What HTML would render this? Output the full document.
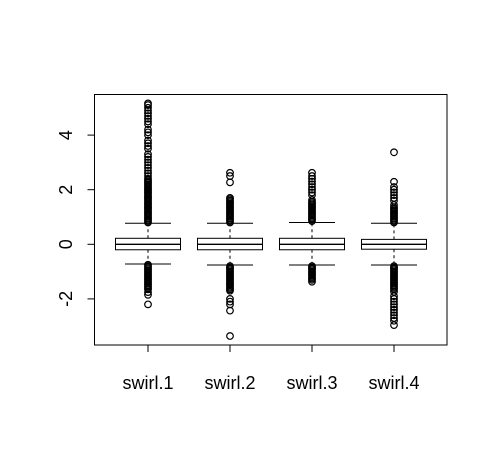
<!DOCTYPE html>
<html><head><meta charset="utf-8"><style>
html,body{margin:0;padding:0;background:#fff;}
svg{display:block;font-family:"Liberation Sans",Arial,sans-serif;}
</style></head><body>
<svg id="chart" width="497" height="463"></svg>
<script>
const categories = ["swirl.1","swirl.2","swirl.3","swirl.4"];
const q1 = [-0.2,-0.2,-0.2,-0.18];
const medians = [0,0,0,0];
const q3 = [0.22,0.22,0.22,0.18];
const whiskerLow = [-0.72,-0.76,-0.76,-0.76];
const whiskerHigh = [0.77,0.77,0.8,0.77];
const outliers1 = [0.8,0.85,0.9,0.95,1.0,1.05,1.1,1.15,1.2,1.25,1.3,1.35,1.4,1.45,1.5,1.55,1.6,1.65,1.7,1.75,1.8,1.85,1.9,1.95,2.0,2.05,2.1,2.15,2.2,2.25,2.3,2.35,2.4,2.5,2.6,2.7,2.8,2.9,3.0,3.1,3.2,3.3,3.5,3.6,3.7,3.8,4.0,4.1,4.2,4.4,4.5,4.6,4.7,4.8,4.9,5.0,5.1,5.16,-0.75,-0.8,-0.85,-0.9,-0.95,-1.0,-1.05,-1.1,-1.15,-1.2,-1.25,-1.3,-1.35,-1.4,-1.45,-1.5,-1.55,-1.6,-1.65,-1.75,-1.85,-2.2];
const outliers2 = [0.8,0.85,0.9,0.95,1.0,1.05,1.1,1.15,1.2,1.25,1.3,1.35,1.4,1.45,1.5,1.55,1.6,1.65,1.7,2.27,2.5,2.62,-0.8,-0.85,-0.9,-0.95,-1.0,-1.05,-1.1,-1.15,-1.2,-1.25,-1.3,-1.35,-1.4,-1.45,-1.5,-1.55,-1.6,-1.65,-1.7,-2.0,-2.1,-2.2,-2.43,-3.36];
const outliers3 = [0.85,0.9,0.95,1.0,1.05,1.1,1.15,1.2,1.25,1.3,1.35,1.4,1.45,1.5,1.55,1.62,1.8,1.9,2.0,2.1,2.2,2.3,2.4,2.5,2.62,-0.8,-0.85,-0.9,-0.95,-1.0,-1.05,-1.1,-1.15,-1.2,-1.25,-1.3,-1.37];
const outliers4 = [0.8,0.85,0.9,0.95,1.0,1.05,1.1,1.15,1.2,1.25,1.3,1.35,1.44,1.6,1.7,1.8,1.9,2.0,2.1,2.29,3.37,-0.8,-0.85,-0.9,-0.95,-1.0,-1.05,-1.1,-1.15,-1.2,-1.25,-1.3,-1.35,-1.4,-1.45,-1.5,-1.55,-1.6,-1.65,-1.74,-1.9,-2.0,-2.1,-2.2,-2.3,-2.4,-2.5,-2.6,-2.7,-2.8,-2.96];
const outliers = [outliers1,outliers2,outliers3,outliers4];
const yTicks = [-2,0,2,4];

const svg = document.getElementById('chart');
const NS = 'http://www.w3.org/2000/svg';
const L=94.5,R=447,T=94.5,B=345;
function yS(v){return 244.3-27.3*v;}
function xS(i){return 148+i*82;}
function mk(tag,attrs,parent){const e=document.createElementNS(NS,tag);for(const k in attrs)e.setAttribute(k,attrs[k]);(parent||svg).appendChild(e);return e;}

const frame=mk('rect',{x:L,y:T,width:R-L,height:B-T,fill:'none',stroke:'#000','stroke-width':1});



const yAxis=mk('g',{});


mk('line',{x1:L,x2:L,y1:yS(-2),y2:yS(4),stroke:'#000'},yAxis);
yTicks.forEach(t=>{
  const y=yS(t);
  mk('line',{x1:L-7,x2:L,y1:y,y2:y,stroke:'#000'},yAxis);
  const tx=mk('text',{x:0,y:0,'font-size':18,'text-anchor':'middle',transform:`translate(72,${y}) rotate(-90)`},yAxis);
  tx.textContent=t<0?'-'+Math.abs(t):String(t);
  
  
});

const xAxis=mk('g',{});


mk('line',{x1:xS(0),x2:xS(3),y1:B,y2:B,stroke:'#000'},xAxis);
categories.forEach((c,i)=>{
  const x=xS(i);
  mk('line',{x1:x,x2:x,y1:B,y2:B+7,stroke:'#000'},xAxis);
  const tx=mk('text',{x:x,y:389,'font-size':18,'text-anchor':'middle'},xAxis);
  tx.textContent=c;
  
  
});

const hw=32.5, cap=23;
categories.forEach((c,i)=>{
  const x=xS(i);
  const g=mk('g',{});
  
  
  mk('line',{x1:x,x2:x,y1:yS(q3[i]),y2:yS(whiskerHigh[i]),stroke:'#000','stroke-dasharray':'3,3'},g);
  mk('line',{x1:x,x2:x,y1:yS(q1[i]),y2:yS(whiskerLow[i]),stroke:'#000','stroke-dasharray':'3,3'},g);
  mk('line',{x1:x-cap,x2:x+cap,y1:yS(whiskerHigh[i]),y2:yS(whiskerHigh[i]),stroke:'#000'},g);
  mk('line',{x1:x-cap,x2:x+cap,y1:yS(whiskerLow[i]),y2:yS(whiskerLow[i]),stroke:'#000'},g);
  mk('rect',{x:x-hw,y:yS(q3[i]),width:2*hw,height:yS(q1[i])-yS(q3[i]),fill:'#fff',stroke:'#000'},g);
  mk('line',{x1:x-hw,x2:x+hw,y1:yS(medians[i]),y2:yS(medians[i]),stroke:'#000','stroke-width':1.3},g);
  outliers[i].forEach(v=>{
    const p=mk('circle',{cx:x,cy:yS(v),r:3.3,fill:'none',stroke:'#000','stroke-width':1.2},g);
    
    
  });
});
</script>
</body></html>
